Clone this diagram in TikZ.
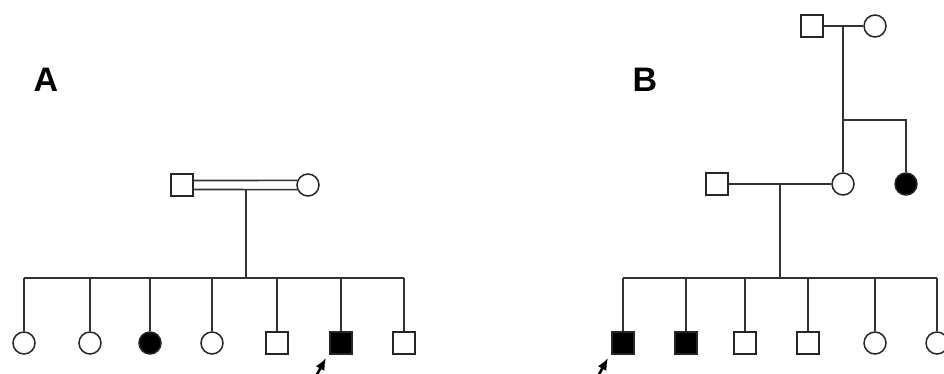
\documentclass[tikz,border=0pt]{standalone}
\usepackage{fontspec}
\setmainfont{Liberation Sans}
\usetikzlibrary{arrows.meta}
\begin{document}
\begin{tikzpicture}[x=1pt,y=-1pt,
  person/.style={draw=black!85, line width=1.5pt, minimum size=22pt, inner sep=0pt, fill=white},
  male/.style={person, rectangle},
  female/.style={person, circle},
  affected/.style={fill=black},
  lineage/.style={draw=black!80, line width=1.6pt},
  proband/.style={-{Latex[length=12pt,width=10pt]}, line width=2.6pt, black},
  panel/.style={font=\bfseries\fontsize{34}{34}\selectfont, inner sep=0pt}]
\fill[white] (0,0) rectangle (944,373);
\useasboundingbox (0,0) rectangle (944,373);

% ---------------- Panel A ----------------
\node[panel] (labA) at (46,80) {A};
\node[male]   (fA) at (182,185) {};
\node[female] (mA) at (308,185) {};
% consanguineous mating: double line
\draw[lineage] ([yshift=4.5pt]fA.east) -- (mA.157);
\draw[lineage] ([yshift=-4.5pt]fA.east) -- (mA.203);
\coordinate (jA) at (246,189.5);
\coordinate (sA) at (246,278);
\draw[lineage] (jA) -- (sA);

\node[female]          (a1) at (24,343)  {};
\node[female]          (a2) at (90,343)  {};
\node[female,affected] (a3) at (150,343) {};
\node[female]          (a4) at (212,343) {};
\node[male]            (a5) at (277,343) {};
\node[male,affected]   (a6) at (341,343) {};
\node[male]            (a7) at (404,343) {};
\draw[lineage] (a1 |- sA) -- (a7 |- sA);
\foreach \c in {a1,a2,a3,a4,a5,a6,a7}
  \draw[lineage] (\c |- sA) -- (\c);
\coordinate (pAt) at (315,378);
\coordinate (pAh) at (326,358);
\draw[proband] (pAt) -- (pAh);

% ---------------- Panel B ----------------
\node[panel] (labB) at (645,80) {B};
\node[male]   (gf) at (812,26) {};
\node[female] (gm) at (875,26) {};
\draw[lineage] (gf) -- (gm);
\coordinate (jG) at (843,26);
\coordinate (bG) at (843,120);

\node[male]            (fB) at (717,184) {};
\node[female]          (mB) at (843,184) {};
\node[female,affected] (aunt) at (906,184) {};
\draw[lineage] (jG) -- (mB);
\draw[lineage] (bG) -| (aunt);
\draw[lineage] (fB) -- (mB);
\coordinate (jB) at (780,184);
\coordinate (sB) at (780,278);
\draw[lineage] (jB) -- (sB);

\node[male,affected] (b1) at (623,343) {};
\node[male,affected] (b2) at (686,343) {};
\node[male]          (b3) at (745,343) {};
\node[male]          (b4) at (808,343) {};
\node[female]        (b5) at (875,343) {};
\node[female]        (b6) at (937,343) {};
\draw[lineage] (b1 |- sB) -- (b6 |- sB);
\foreach \c in {b1,b2,b3,b4,b5,b6}
  \draw[lineage] (\c |- sB) -- (\c);
\coordinate (pBt) at (597,378);
\coordinate (pBh) at (608,358);
\draw[proband] (pBt) -- (pBh);
\end{tikzpicture}
\end{document}
